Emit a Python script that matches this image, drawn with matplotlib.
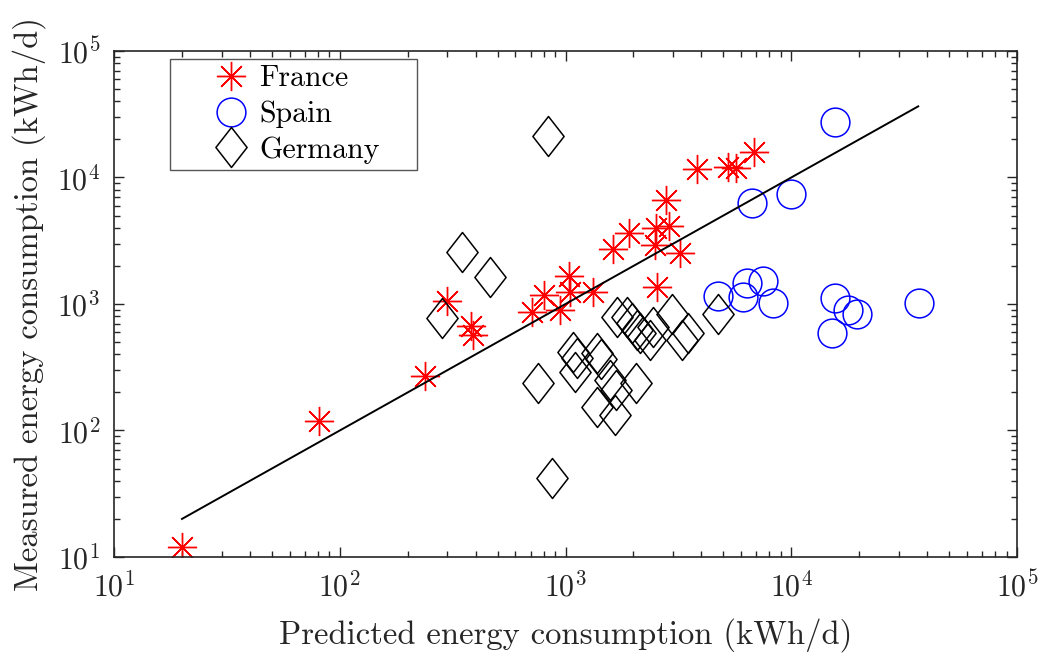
import numpy as np
import matplotlib
matplotlib.use("Agg")
import matplotlib.pyplot as plt
from matplotlib.path import Path

# -------------------------
# DATA
# -------------------------
france_pred = [19.95, 80.9, 238.7, 297.7, 381.3, 388, 708, 803, 945, 1040, 1047, 1328,
               1615, 1918, 2491, 2518, 2860, 3215, 2535, 2787, 3826, 5262, 5662, 6840]
france_meas = [12.05, 118.3, 269.8, 1056, 666, 564, 869, 1178, 897, 1665, 1251, 1251,
               2737, 3660, 2900, 3966, 4137, 2517, 1370, 6640, 11740, 12170, 11890, 15990]

spain_pred = [15630, 6720, 10000, 4720, 6110, 6390, 7520, 8270, 15630, 17780, 19550, 15110, 36900]
spain_meas = [27300, 6250, 7410, 1164, 1136, 1473, 1511, 1013, 1110, 897, 834, 593, 1013]

germany_pred = [834, 347, 463, 283, 758, 874, 1686, 1866, 2066, 2449, 2367, 2953, 3271,
                3499, 4753, 1083, 1124, 1375, 1102, 1437, 1574, 1674, 2052, 1375, 1656,
                1964, 2138]
germany_meas = [21400, 2590, 1643, 771, 239, 42.4, 794, 794, 623, 662, 519, 834, 519,
                587, 834, 420, 374, 408, 292, 367, 251, 209, 236, 154, 133, 704, 590]

line_x = [20, 36500]
line_y = [20, 36500]

labels = ["France", "Spain", "Germany"]

# -------------------------
# STYLE
# -------------------------
plt.rcParams["font.family"] = "cmr10"
plt.rcParams["mathtext.fontset"] = "cm"
plt.rcParams["axes.formatter.use_mathtext"] = True
plt.rcParams["axes.unicode_minus"] = False

txt_color = "#262626"
diamond = Path([(0, 1), (0.78, 0), (0, -1), (-0.78, 0), (0, 1)],
               [Path.MOVETO, Path.LINETO, Path.LINETO, Path.LINETO, Path.CLOSEPOLY])

fig = plt.figure(figsize=(10.43, 6.56), dpi=100)
ax = fig.add_axes([0.1093, 0.1509, 0.8658, 0.7714])

ax.plot(france_pred, france_meas, linestyle="none", marker=(8, 2, 0), markersize=21,
        markeredgecolor="#ff0000", markeredgewidth=1.0, label=labels[0])
ax.plot(spain_pred, spain_meas, linestyle="none", marker="o", markersize=20.7,
        markerfacecolor="none", markeredgecolor="#0000ff", markeredgewidth=1.1,
        label=labels[1])
ax.plot(germany_pred, germany_meas, linestyle="none", marker=diamond, markersize=28.8,
        markerfacecolor="none", markeredgecolor="black", markeredgewidth=1.1,
        label=labels[2])
ax.plot(line_x, line_y, color="black", linewidth=1.4)

ax.set_xscale("log")
ax.set_yscale("log")
ax.set_xlim(10, 1e5)
ax.set_ylim(10, 1e5)

ax.tick_params(which="both", direction="in", top=True, right=True,
               colors=txt_color, labelsize=21.5)
ax.tick_params(which="major", length=7, width=1.0, pad=10)
ax.tick_params(which="minor", length=4, width=1.0)
for s in ax.spines.values():
    s.set_color(txt_color)
    s.set_linewidth(1.2)

ax.set_xlabel("Predicted energy consumption (kWh/d)", fontsize=23.5, color=txt_color,
              labelpad=11)
ax.set_ylabel("Measured energy consumption (kWh/d)", fontsize=23.5, color=txt_color,
              labelpad=8)

leg = ax.legend(loc="upper left", bbox_to_anchor=(0.062, 0.0, 0.2735, 0.984),
                mode="expand", borderaxespad=0, fontsize=21.5, frameon=True,
                fancybox=False, edgecolor="#555555", framealpha=1,
                borderpad=0.2, handlelength=3.7, handletextpad=-0.9,
                labelspacing=0.27)
leg.get_frame().set_linewidth(1.0)
for t in leg.get_texts():
    t.set_color("black")

plt.savefig("out.png", dpi=100)
